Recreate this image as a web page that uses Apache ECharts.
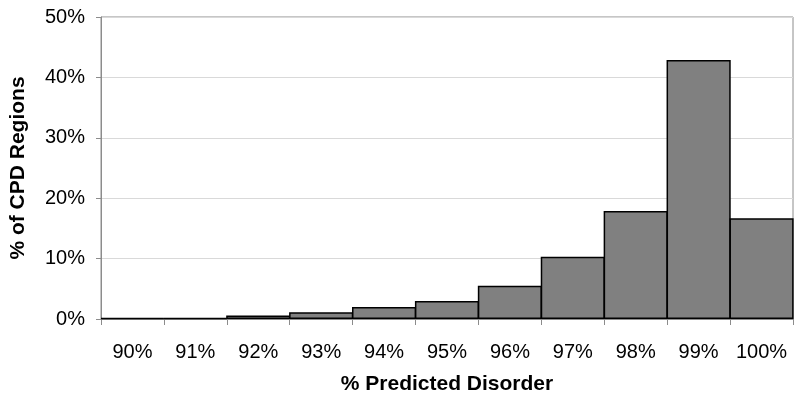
<!DOCTYPE html>
<html>
<head>
<meta charset="utf-8">
<script src="https://cdn.jsdelivr.net/npm/echarts@6/dist/echarts.min.js"></script>
<style>
  html, body { margin: 0; padding: 0; background: #fff; }
  #chart { width: 800px; height: 403px; }
</style>
</head>
<body>
<div id="chart"></div>
<script>
// bins of predicted disorder
const categories = ['90%', '91%', '92%', '93%', '94%', '95%', '96%', '97%', '98%', '99%', '100%'];
// share of CPD regions in each bin (%)
const regionShare = [0.2, 0.2, 0.6, 1.1, 2.0, 3.0, 5.5, 10.3, 17.9, 42.9, 16.7];

const chart = echarts.init(document.getElementById('chart'));

const font = 'Liberation Sans, Arial, sans-serif';

const option = {
  animation: false,
  grid: {
    show: true,
    left: 98,
    right: 7,
    top: 17,
    bottom: 84,
    borderColor: '#8c8c8c',
    borderWidth: 1,
  },
  xAxis: {
    type: 'category',
    data: categories,
    name: '% Predicted Disorder',
    nameLocation: 'middle',
    nameGap: 55,
    nameTextStyle: {
      color: '#000',
      fontFamily: font,
      fontSize: 21,
      fontWeight: 'bold',
    },
    axisLine: { lineStyle: { color: '#8c8c8c' } },
    axisTick: { show: true, length: 6, lineStyle: { color: '#8c8c8c' } },
    axisLabel: {
      interval: 0,
      color: '#000',
      fontFamily: font,
      fontSize: 20,
      margin: 23,
    },
  },
  yAxis: {
    type: 'value',
    min: 0,
    max: 50,
    interval: 10,
    name: '% of CPD Regions',
    nameLocation: 'middle',
    nameGap: 72,
    nameTextStyle: {
      color: '#000',
      fontFamily: font,
      fontSize: 21,
      fontWeight: 'bold',
    },
    axisLine: { show: true, lineStyle: { color: '#8c8c8c' } },
    axisTick: { show: true, length: 5, lineStyle: { color: '#8c8c8c' } },
    axisLabel: {
      color: '#000',
      fontFamily: font,
      fontSize: 20,
      margin: 16,
      formatter: '{value}%',
    },
    splitLine: {
      show: true,
      lineStyle: { color: '#d9d9d9' },
    },
  },
  series: [
    {
      type: 'bar',
      data: regionShare,
      barWidth: '102%',
      itemStyle: {
        color: '#808080',
        borderColor: '#000',
        borderWidth: 1.5,
      },
    },
  ],
};

chart.setOption(option);
</script>
</body>
</html>
